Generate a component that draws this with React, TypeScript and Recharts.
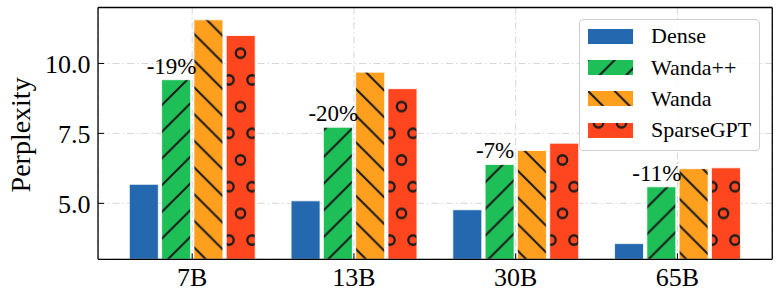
import React from 'react';
import { BarChart, Bar, XAxis, YAxis, CartesianGrid, Legend, LabelList, Label } from 'recharts';

const categories = ['7B', '13B', '30B', '65B'];
const dense = [5.68, 5.09, 4.77, 3.56];
const wandaPP = [9.42, 7.72, 6.39, 5.59];
const wanda = [11.56, 9.69, 6.89, 6.24];
const sparseGPT = [11.0, 9.1, 7.15, 6.27];
const gains = ['-19%', '-20%', '-7%', '-11%'];

const yMajorTicks = [5.0, 7.5, 10.0];
const yMinorTicks = [3, 3.5, 4, 4.5, 5, 5.5, 6, 6.5, 7, 7.5, 8, 8.5, 9, 9.5, 10, 10.5, 11, 11.5, 12];
const xMinorTicks = [-0.5, -0.25, 0.25, 0.5, 0.75, 1.25, 1.5, 1.75, 2.25, 2.5, 2.75, 3.25, 3.5];

const seriesNames = ['Dense', 'Wanda++', 'Wanda', 'SparseGPT'];
const seriesKeys = ['dense', 'wandaPP', 'wanda', 'sparseGPT'];
const seriesColors = ['#2469af', '#1fbf58', '#ff9f1e', '#ff461e'];
const seriesFills = ['#2469af', 'url(#hatchFwd)', 'url(#hatchBack)', 'url(#hatchCircle)'];

const data = categories.map((c, i) => ({
  cat: c,
  dense: dense[i],
  wandaPP: wandaPP[i],
  wanda: wanda[i],
  sparseGPT: sparseGPT[i],
  gain: gains[i],
}));

const FONT = '"Liberation Serif", "Times New Roman", serif';
const P = 26.7;
const HATCH = '#1a1a1a';
const EPS = 0.01;

const Patterns = () => (
  <svg width={0} height={0} style={{ position: 'absolute' }}>
    <defs>
      <pattern id="hatchFwd" patternUnits="userSpaceOnUse" width={P} height={P}>
        <rect x={0} y={0} width={P} height={P} fill={seriesColors[1]} />
        <path
          d={`M0,${P} L${P},0 M-3,3 L3,-3 M${P - 3},${P + 3} L${P + 3},${P - 3}`}
          stroke={HATCH}
          strokeWidth={2}
        />
      </pattern>
      <pattern id="hatchBack" patternUnits="userSpaceOnUse" width={P} height={P}>
        <rect x={0} y={0} width={P} height={P} fill={seriesColors[2]} />
        <path
          d={`M0,0 L${P},${P} M-3,${P - 3} L3,${P + 3} M${P - 3},-3 L${P + 3},3`}
          stroke={HATCH}
          strokeWidth={2}
        />
      </pattern>
      <pattern id="hatchCircle" patternUnits="userSpaceOnUse" x={-1} y={26.5} width={23} height={53.4}>
        <rect x={0} y={0} width={23} height={53.4} fill={seriesColors[3]} />
        {[
          [0, 0],
          [23, 0],
          [0, 53.4],
          [23, 53.4],
          [11.5, 26.7],
        ].map(([cx, cy], i) => (
          <circle key={i} cx={cx} cy={cy} r={4.7} fill="none" stroke={HATCH} strokeWidth={2.3} />
        ))}
      </pattern>
    </defs>
  </svg>
);

const renderLegend = () => (
  <div
    style={{
      width: 181,
      height: 132,
      boxSizing: 'border-box',
      border: '1.2px solid #cfcfcf',
      borderRadius: 4,
      background: 'rgba(255,255,255,0.85)',
      paddingLeft: 8,
      paddingTop: 0.5,
      fontFamily: FONT,
    }}
  >
    {seriesNames.map((n, i) => (
      <div key={n} style={{ height: 31.4, display: 'flex', alignItems: 'center' }}>
        <svg width={45} height={15} style={{ display: 'block' }}>
          <rect x={0} y={0} width={45} height={15} fill={seriesFills[i]} />
        </svg>
        <span style={{ marginLeft: 18, fontSize: 22, color: '#000', lineHeight: '22px' }}>{n}</span>
      </div>
    ))}
  </div>
);

const GainLabel = (props: any) => {
  const { x, y, width, value } = props;
  return (
    <text
      x={Number(x) + Number(width) / 2 - 4.5}
      y={Number(y) - 6}
      textAnchor="middle"
      fontSize={23}
      fontFamily={FONT}
      fill="#000"
    >
      {value}
    </text>
  );
};

const YLabel = (props: any) => {
  const vb = props.viewBox || {};
  const cx = Number(vb.x) - 78;
  const cy = Number(vb.y) + Number(vb.height) / 2 + 1.5;
  return (
    <text
      x={cx}
      y={cy}
      transform={`rotate(-90, ${cx}, ${cy})`}
      textAnchor="middle"
      dominantBaseline="central"
      fontSize={28}
      fontFamily={FONT}
      fill="#000"
    >
      Perplexity
    </text>
  );
};

const tickStyle = { fill: '#000', fontSize: 26, fontFamily: FONT };
const axisStroke = { stroke: '#000', strokeWidth: 1.3 };
const tickLineStyle = { stroke: '#000', strokeWidth: 1 };
const Y_DOMAIN: [number, number] = [3, 12];
const XM_DOMAIN: [number, number] = [-0.5824, 3.5864];

export default function App() {
  return (
    <div style={{ position: 'absolute', left: 0, top: 0, width: 780, height: 299, background: '#fff' }}>
      <Patterns />
      <BarChart
        width={780}
        height={299}
        data={data}
        margin={{ top: 7.5, right: 7.7, bottom: 39.7, left: 98 }}
        barSize={29}
        barGap={3.3}
      >
        <CartesianGrid
          xAxisId="x"
          yAxisId="L"
          stroke="#d6d6d6"
          strokeWidth={1}
          strokeDasharray="7 3 1.5 3"
        />
        <XAxis
          xAxisId="x"
          dataKey="cat"
          height={EPS}
          padding={{ left: 13.3, right: 14 }}
          tick={tickStyle}
          tickSize={-6}
          tickMargin={14.2}
          axisLine={axisStroke}
          tickLine={tickLineStyle}
        />
        <XAxis
          xAxisId="xt"
          dataKey="cat"
          orientation="top"
          height={EPS}
          padding={{ left: 13.3, right: 14 }}
          tick={false}
          tickSize={-6}
          axisLine={axisStroke}
          tickLine={tickLineStyle}
        />
        <XAxis
          xAxisId="xm"
          type="number"
          domain={XM_DOMAIN}
          allowDataOverflow
          ticks={xMinorTicks}
          height={EPS}
          tick={false}
          tickSize={-3}
          axisLine={false}
          tickLine={tickLineStyle}
          interval={0}
        />
        <XAxis
          xAxisId="xmt"
          type="number"
          orientation="top"
          domain={XM_DOMAIN}
          allowDataOverflow
          ticks={xMinorTicks}
          height={EPS}
          tick={false}
          tickSize={-3}
          axisLine={false}
          tickLine={tickLineStyle}
          interval={0}
        />
        <YAxis
          yAxisId="L"
          width={EPS}
          domain={Y_DOMAIN}
          allowDataOverflow
          ticks={yMajorTicks}
          tickFormatter={(v: number) => v.toFixed(1)}
          tick={tickStyle}
          tickSize={-6}
          tickMargin={13.5}
          axisLine={axisStroke}
          tickLine={tickLineStyle}
          interval={0}
        >
          <Label content={YLabel} />
        </YAxis>
        <YAxis
          yAxisId="Lm"
          width={EPS}
          domain={Y_DOMAIN}
          allowDataOverflow
          ticks={yMinorTicks}
          tick={false}
          tickSize={-3}
          axisLine={false}
          tickLine={tickLineStyle}
          interval={0}
        />
        <YAxis
          yAxisId="R"
          orientation="right"
          width={EPS}
          domain={Y_DOMAIN}
          allowDataOverflow
          ticks={yMajorTicks}
          tick={false}
          tickSize={-6}
          axisLine={axisStroke}
          tickLine={tickLineStyle}
          interval={0}
        />
        <YAxis
          yAxisId="Rm"
          orientation="right"
          width={EPS}
          domain={Y_DOMAIN}
          allowDataOverflow
          ticks={yMinorTicks}
          tick={false}
          tickSize={-3}
          axisLine={false}
          tickLine={tickLineStyle}
          interval={0}
        />
        {seriesKeys.map((k, i) => (
          <Bar
            key={k}
            xAxisId="x"
            yAxisId="L"
            dataKey={k}
            name={seriesNames[i]}
            fill={seriesFills[i]}
            stroke="#ffffff"
            strokeWidth={0.8}
            isAnimationActive={false}
          >
            {k === 'wandaPP' ? <LabelList dataKey="gain" content={GainLabel} /> : null}
          </Bar>
        ))}
        <Legend
          layout="horizontal"
          verticalAlign="middle"
          align="center"
          content={renderLegend}
          wrapperStyle={{ left: 579, top: 19, width: 181, height: 132 }}
        />
      </BarChart>
    </div>
  );
}
